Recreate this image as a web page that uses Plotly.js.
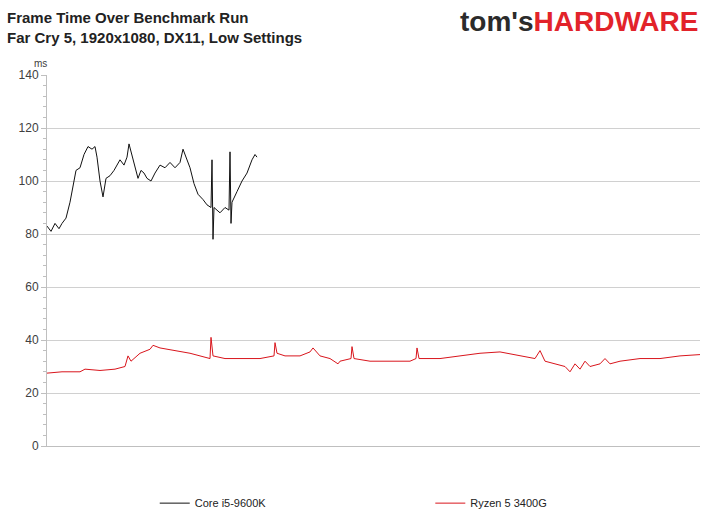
<!DOCTYPE html>
<html>
<head>
<meta charset="utf-8">
<script src="https://cdn.plot.ly/plotly-3.0.1.min.js"></script>
<style>body{margin:0;background:#fff}</style>
</head>
<body>
<div id="chart" style="width:709px;height:531px"></div>
<script>
// time in seconds (approx), frame time in ms
var intelTime = [0, 0.4, 0.8, 1.2, 1.5, 1.9, 2.3, 2.7, 2.9, 3.3, 3.7, 4.1, 4.5, 4.8, 5.0, 5.3, 5.6, 5.9, 6.3, 6.7, 7.0, 7.3, 7.7, 8.0, 8.2, 8.5, 8.8, 9.1, 9.4, 9.7, 10.0, 10.4, 10.8, 11.3, 11.8, 12.3, 12.8, 13.3, 13.6, 13.9, 14.3, 14.7, 15.1, 15.6, 16.0, 16.4, 16.5, 16.6, 16.7, 17.3, 17.8, 18.2, 18.3, 18.4, 18.5, 19.0, 19.5, 20.0, 20.5, 20.8, 21.0];
var intelMs   = [83, 81, 84, 82, 84, 86, 92, 100, 104, 105, 110, 113, 112, 113, 109, 100, 94, 101, 102, 104, 106, 108, 106, 109, 114, 110, 105, 101, 104, 103, 101, 100, 103, 106, 105, 107, 105, 107, 112, 109, 105, 99, 95, 93, 91, 90, 108, 78, 90, 88, 90, 89, 111, 84, 92, 96, 100, 103, 108, 110, 109];

var amdTime = [0, 1.5, 3.3, 3.8, 5.3, 6.8, 7.8, 8.1, 8.4, 9.3, 10.3, 10.6, 11.3, 12.8, 14.3, 15.3, 16.3, 16.4, 16.6, 17.8, 19.3, 21.3, 22.7, 22.8, 23.0, 23.8, 25.3, 26.3, 26.6, 27.3, 28.3, 29.1, 29.3, 30.4, 30.5, 30.7, 32.3, 34.3, 36.3, 36.9, 37.0, 37.2, 39.3, 41.3, 43.3, 45.3, 47.3, 48.8, 49.3, 49.8, 50.8, 51.8, 52.3, 52.8, 53.3, 53.8, 54.3, 55.3, 55.8, 56.3, 57.3, 59.3, 61.3, 63.3, 65.3];
var amdMs   = [27.5, 28, 28, 29, 28.5, 29, 30, 34, 32, 35, 36.5, 38, 37, 36, 35, 34, 33, 41, 34, 33, 33, 33, 34, 39, 35, 34, 34, 35.5, 37, 34, 33, 31, 32, 33, 37.5, 33, 32, 32, 32, 33, 37, 33, 33, 34, 35, 35.5, 34, 33, 36, 32, 31, 30, 28, 31, 29, 32, 30, 31, 33, 31, 32, 33, 33, 34, 34.5];

var data = [
  {x: intelTime, y: intelMs, name: 'Core i5-9600K', type: 'scatter', mode: 'lines',
   line: {color: '#111111', width: 1}, legend: 'legend'},
  {x: amdTime, y: amdMs, name: 'Ryzen 5 3400G', type: 'scatter', mode: 'lines',
   line: {color: '#d9151c', width: 1}, legend: 'legend2'}
];

var layout = {
  width: 709, height: 531,
  margin: {l: 47, r: 9, t: 75, b: 85},
  paper_bgcolor: '#fff', plot_bgcolor: '#fff',
  font: {family: 'Liberation Sans, Arial, sans-serif', color: '#333'},
  xaxis: {range: [0, 65.3], showticklabels: false, showgrid: false, zeroline: false,
          showline: true, linecolor: '#bfbfbf', ticks: ''},
  yaxis: {range: [0, 140], dtick: 20, showgrid: true, gridcolor: '#d0d0d0', zeroline: false,
          showline: true, linecolor: '#bfbfbf', ticks: 'outside', ticklen: 5, tickcolor: '#bfbfbf',
          tickfont: {size: 12, color: '#404040'},
          minor: {dtick: 4, ticks: 'outside', ticklen: 3, tickcolor: '#bfbfbf', showgrid: false}},
  showlegend: true,
  legend: {orientation: 'h', x: 0.165, xanchor: 'left', y: -0.154, yanchor: 'middle',
           font: {size: 11, color: '#222'}},
  legend2: {orientation: 'h', x: 0.587, xanchor: 'left', y: -0.154, yanchor: 'middle',
           font: {size: 11, color: '#222'}},
  annotations: [
    {text: '<b>Frame Time Over Benchmark Run</b>', xref: 'paper', yref: 'paper', x: -0.064, y: 1.154,
     xanchor: 'left', yanchor: 'middle', showarrow: false, font: {size: 15, color: '#222'}},
    {text: '<b>Far Cry 5, 1920x1080, DX11, Low Settings</b>', xref: 'paper', yref: 'paper', x: -0.064, y: 1.10,
     xanchor: 'left', yanchor: 'middle', showarrow: false, font: {size: 15, color: '#222'}},
    {text: '<b><span style="color:#2b2b2b">tom\'s</span><span style="color:#e2232a">HARDWARE</span></b>',
     xref: 'paper', yref: 'paper', x: 1.0, y: 1.143, xanchor: 'right', yanchor: 'middle', showarrow: false,
     font: {size: 28, family: 'Liberation Sans Narrow, Arial Narrow, sans-serif'}},
    {text: 'ms', xref: 'paper', yref: 'paper', x: -0.01, y: 1.012, xanchor: 'center', yanchor: 'bottom',
     showarrow: false, font: {size: 10, color: '#404040'}}
  ]
};

Plotly.newPlot('chart', data, layout, {displayModeBar: false});
</script>
</body>
</html>
